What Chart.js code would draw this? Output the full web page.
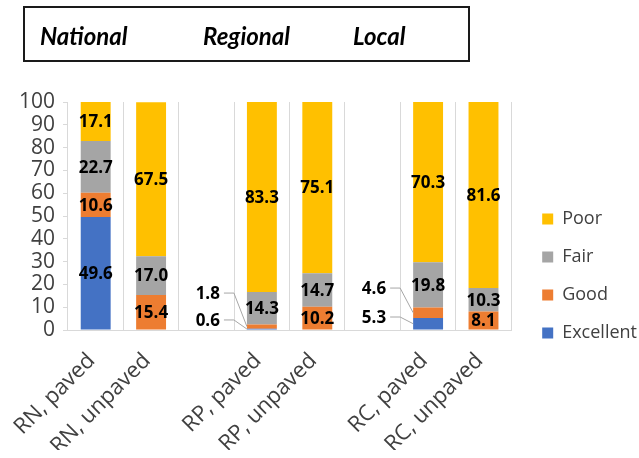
<!DOCTYPE html>
<html>
<head>
<meta charset="utf-8">
<script src="https://cdn.jsdelivr.net/npm/chart.js@4.4.1/dist/chart.umd.min.js"></script>
<style>
  html, body { margin: 0; padding: 0; background: #fff; }
  #wrap { position: relative; width: 639px; height: 458px; }
  #head { position: absolute; left: 23px; top: 6px; width: 443px; height: 52px; border: 2px solid #1a1a1a; }
  #head span { position: absolute; top: 16px; font: italic bold 24px Lato; line-height: 24px; color: #000; }
  #box { position: absolute; left: 0; top: 0; width: 639px; height: 458px; }
</style>
</head>
<body>
<div id="wrap">
  <div id="box"><canvas id="roadChart"></canvas></div>
  <div id="head">
    <span style="left:15px">National</span>
    <span style="left:178px">Regional</span>
    <span style="left:328px">Local</span>
  </div>
</div>
<script>
// road condition by class, % of length
const categories = ["RN, paved", "RN, unpaved", "", "RP, paved", "RP, unpaved", "", "RC, paved", "RC, unpaved"];
const excellent = [49.6, 0, null, 0.6, 0, null, 5.3, 0];
const good = [10.6, 15.4, null, 1.8, 10.2, null, 4.6, 8.1];
const fair = [22.7, 17.0, null, 14.3, 14.7, null, 19.8, 10.3];
const poor = [17.1, 67.5, null, 83.3, 75.1, null, 70.3, 81.6];

// labels that sit left of the bar with a leader line (dataset, index, label height in axis units)
const callouts = [
  { dataset: 0, index: 3, at: 4.4 },
  { dataset: 1, index: 3, at: 16.2 },
  { dataset: 0, index: 6, at: 5.7 },
  { dataset: 1, index: 6, at: 18.4 },
];

const segmentLabels = {
  id: "segmentLabels",
  afterDatasetsDraw(chart) {
    const ctx = chart.ctx;
    const yScale = chart.scales.y;
    ctx.save();
    ctx.font = 'bold 17px "Open Sans"';
    ctx.fillStyle = "#000";
    ctx.textBaseline = "middle";
    chart.data.datasets.forEach((ds, di) => {
      const meta = chart.getDatasetMeta(di);
      meta.data.forEach((bar, i) => {
        const v = ds.data[i];
        if (!v) return;
        const text = v.toFixed(1);
        const mid = (bar.y + bar.base) / 2;
        const c = callouts.find((o) => o.dataset === di && o.index === i);
        if (c) {
          const ly = yScale.getPixelForValue(c.at);
          const left = bar.x - bar.width / 2;
          ctx.textAlign = "right";
          ctx.fillText(text, left - 27, ly + 1);
          ctx.strokeStyle = "#a6a6a6";
          ctx.lineWidth = 1;
          ctx.beginPath();
          ctx.moveTo(left - 23, ly);
          ctx.lineTo(left - 13, ly);
          ctx.lineTo(left, mid);
          ctx.stroke();
        } else {
          ctx.textAlign = "center";
          ctx.fillText(text, bar.x, mid + 1);
        }
      });
    });
    ctx.restore();
  },
};

// push legend a bit to the right
const legendNudge = {
  id: "legendNudge",
  afterLayout(chart) {
    chart.legend.left += 11;
    chart.legend.right += 11;
  },
};

const data = {
  labels: categories,
  datasets: [
    { label: "Excellent", data: excellent, backgroundColor: "#4472C4" },
    { label: "Good", data: good, backgroundColor: "#ED7D31" },
    { label: "Fair", data: fair, backgroundColor: "#A5A5A5" },
    { label: "Poor", data: poor, backgroundColor: "#FFC000" },
  ],
};

const config = {
  type: "bar",
  data: data,
  options: {
    responsive: true,
    maintainAspectRatio: false,
    animation: false,
    layout: { padding: { top: 102, bottom: 8, left: 0, right: 3 } },
    datasets: { bar: { categoryPercentage: 1, barPercentage: 0.54, borderWidth: 0 } },
    plugins: {
      tooltip: { enabled: false },
      legend: {
        position: "right",
        reverse: true,
        labels: {
          boxWidth: 11,
          boxHeight: 11,
          padding: 20,
          color: "#404040",
          font: { family: "Open Sans", size: 18 },
        },
      },
    },
    scales: {
      x: {
        stacked: true,
        grid: { offset: true, color: "#D9D9D9", drawTicks: false },
        border: { color: "#D9D9D9" },
        ticks: {
          autoSkip: false,
          maxRotation: 45,
          minRotation: 45,
          padding: 18,
          labelOffset: -4,
          color: "#404040",
          font: { family: "Open Sans", size: 22 },
        },
        afterFit(scale) { scale.height = 120; },
      },
      y: {
        stacked: true,
        min: 0,
        max: 100,
        grid: { drawOnChartArea: false, color: "#D9D9D9", tickLength: 5 },
        border: { color: "#D9D9D9" },
        ticks: {
          autoSkip: false,
          stepSize: 10,
          padding: 8,
          color: "#404040",
          font: { family: "Open Sans", size: 21 },
        },
        afterFit(scale) { scale.width = 66; },
      },
    },
  },
  plugins: [segmentLabels, legendNudge],
};

const ctx = document.getElementById("roadChart").getContext("2d");
new Chart(ctx, config);
</script>
</body>
</html>
